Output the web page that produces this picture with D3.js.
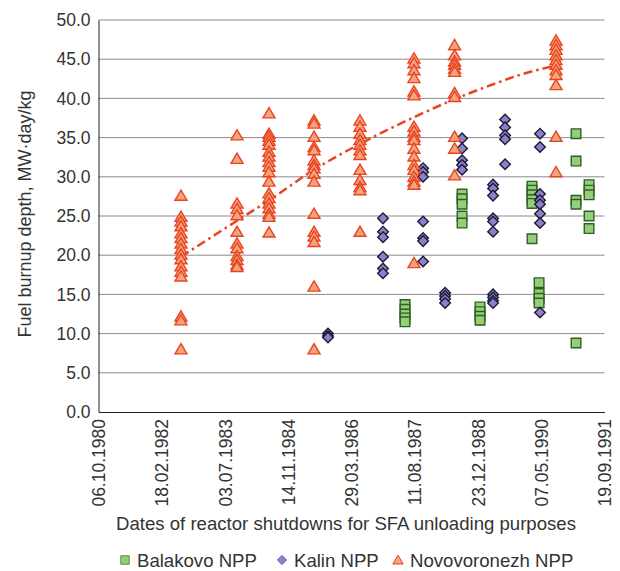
<!DOCTYPE html>
<html lang="en">
<head>
  <meta charset="UTF-8" />
  <title>Fuel burnup depth by reactor shutdown date</title>
  <script src="https://d3js.org/d3.v7.min.js"></script>
  <style>
    body { margin: 0; background: #fff; }
    svg { display: block; font-family: 'Liberation Sans', Arial, sans-serif; }
  </style>
</head>
<body>
  <svg id="chart"></svg>
  <script>
    // tick labels of the date axis (every 500 days)
    const xTickLabels = ["06.10.1980", "18.02.1982", "03.07.1983", "14.11.1984", "29.03.1986",
                         "11.08.1987", "23.12.1988", "07.05.1990", "19.09.1991"];
    const yTickValues = [0, 5, 10, 15, 20, 25, 30, 35, 40, 45, 50];

    // [shutdown date, burnup values]
    const balakovo = [
      ["26.05.1987", [13.7, 13.1, 12.5, 12.0, 11.5]],
      ["19.08.1988", [27.8, 27.2, 26.5, 25.0, 24.1]],
      ["08.01.1989", [13.4, 12.8, 12.2, 11.7]],
      ["23.02.1990", [28.8, 28.3, 27.7, 27.1, 26.6, 22.1]],
      ["20.04.1990", [16.5, 15.1, 14.5, 13.9]],
      ["06.02.1991", [35.5, 32.0, 27.0, 26.5, 8.8]],
      ["20.05.1991", [29.0, 28.3, 27.7, 25.0, 23.4]]
    ];

    const kalin = [
      ["24.09.1985", [10.0, 9.7, 9.5]],
      ["03.12.1986", [24.7, 23.0, 22.3, 19.8, 18.3, 17.7]],
      ["16.10.1987", [31.1, 30.6, 30.0, 24.3, 22.2, 21.8, 19.2]],
      ["07.04.1988", [15.2, 14.8, 14.4, 13.9]],
      ["19.08.1988", [34.9, 33.6, 32.1, 31.5, 30.9]],
      ["21.04.1989", [29.0, 28.5, 27.6, 24.7, 24.3, 23.0, 15.0, 14.6, 14.2, 13.9]],
      ["25.07.1989", [37.3, 36.3, 35.3, 34.8, 31.6]],
      ["27.04.1990", [35.5, 33.8, 27.8, 27.0, 26.5, 25.3, 24.1, 12.7]]
    ];

    const novovoronezh = [
      ["20.07.1982", [27.6, 24.9, 24.3, 23.7, 22.8, 22.2, 21.5, 20.8, 20.1, 19.5, 18.6, 17.9, 17.3, 12.2, 11.7, 8.0]],
      ["06.10.1983", [35.3, 32.3, 26.6, 25.9, 25.1, 23.0, 21.5, 20.9, 19.9, 19.4, 18.8, 18.5]],
      ["15.06.1984", [38.1, 35.5, 35.1, 34.6, 34.1, 33.2, 32.6, 31.9, 31.3, 30.6, 29.4, 27.9, 27.3, 26.6, 26.0, 25.3, 24.9, 22.9]],
      ["06.06.1985", [37.2, 36.8, 35.1, 33.8, 33.4, 32.1, 31.5, 31.1, 30.4, 29.4, 25.3, 23.0, 22.4, 21.7, 16.0, 8.0]],
      ["04.06.1986", [37.2, 36.4, 35.5, 34.7, 34.1, 33.4, 32.8, 30.9, 29.6, 28.7, 28.3, 23.0]],
      ["05.08.1987", [45.1, 44.5, 43.6, 42.6, 40.9, 40.4, 36.4, 35.8, 35.1, 34.7, 33.6, 32.6, 31.5, 30.9, 30.0, 29.4, 29.0, 19.0]],
      ["21.06.1988", [46.8, 45.5, 44.7, 44.3, 43.8, 43.4, 40.7, 40.2, 35.1, 33.6, 30.2]],
      ["01.09.1990", [47.4, 46.8, 46.2, 45.5, 44.9, 44.3, 43.6, 43.0, 41.7, 35.1, 30.6]]
    ];

    // Novovoronezh trend line
    const trendDates = ["20.07.1982", "06.10.1983", "15.06.1984", "06.06.1985", "04.06.1986",
                        "05.08.1987", "21.06.1988", "21.04.1989", "20.11.1989", "01.09.1990"];
    const trendValues = [19.8, 24.4, 27.0, 30.9, 34.2, 37.6, 39.9, 41.8, 43.0, 44.2];

    const parse = d3.timeParse("%d.%m.%Y");

    const svg = d3.select("#chart").attr("width", 620).attr("height", 571);
    const margin = { top: 20, right: 15, bottom: 159, left: 98.5 };
    const width = 506;
    const height = 571 - margin.top - margin.bottom;
    const g = svg.append("g").attr("transform", `translate(${margin.left},${margin.top})`);

    const x = d3.scaleTime()
      .domain([parse(xTickLabels[0]), parse(xTickLabels[xTickLabels.length - 1])])
      .range([0, width]);
    const y = d3.scaleLinear().domain([0, 50]).range([height, 0]);

    // grid
    g.append("g")
      .selectAll("line")
      .data(yTickValues.filter(v => v > 0))
      .join("line")
      .attr("x1", 0).attr("x2", width)
      .attr("y1", d => y(d)).attr("y2", d => y(d))
      .attr("stroke", "#8a8a8a")
      .attr("stroke-width", 1);

    const yAxis = g.append("g")
      .call(d3.axisLeft(y).tickValues(yTickValues).tickFormat(d3.format(".1f")).tickSize(0).tickPadding(8));
    yAxis.select(".domain").attr("stroke", "#222");
    yAxis.selectAll("text").attr("font-size", "17.5px").attr("fill", "#333").attr("font-family", null);

    const xAxis = g.append("g")
      .attr("transform", `translate(0,${height})`)
      .call(d3.axisBottom(x).tickValues(xTickLabels.map(parse)).tickFormat(d3.timeFormat("%d.%m.%Y")).tickSize(0));
    xAxis.select(".domain").attr("stroke", "#222");
    xAxis.selectAll("text")
      .attr("font-size", "17.5px")
      .attr("fill", "#333")
      .attr("font-family", null)
      .attr("text-anchor", "end")
      .attr("transform", "rotate(-90)")
      .attr("x", -7)
      .attr("y", 0)
      .attr("dy", "0.35em");

    // trend line
    const trend = trendDates.map((d, i) => ({ date: parse(d), value: trendValues[i] }));
    g.append("path")
      .datum(trend)
      .attr("fill", "none")
      .attr("stroke", "#e8441f")
      .attr("stroke-width", 2.5)
      .attr("stroke-dasharray", "9 4 2.5 4")
      .attr("d", d3.line().x(d => x(d.date)).y(d => y(d.value)).curve(d3.curveMonotoneX));

    const flat = series => series.flatMap(([d, vals]) => vals.map(v => ({ date: parse(d), value: v })));

    const shapes = {
      square: "M-4.8,-4.8H4.8V4.8H-4.8Z",
      diamond: "M0,-5.3L5.3,0L0,5.3L-5.3,0Z",
      triangle: "M0,-5.6L6,4.6H-6Z"
    };

    const styles = [
      { data: balakovo, shape: "square", fill: "#92cf78", stroke: "#2f5f25" },
      { data: kalin, shape: "diamond", fill: "#8d7fc9", stroke: "#1d1b36" },
      { data: novovoronezh, shape: "triangle", fill: "#f5a27f", stroke: "#e8441f" }
    ];

    styles.forEach(s => {
      g.append("g")
        .selectAll("path")
        .data(flat(s.data))
        .join("path")
        .attr("d", shapes[s.shape])
        .attr("transform", d => `translate(${x(d.date)},${y(d.value)})`)
        .attr("fill", s.fill)
        .attr("stroke", s.stroke)
        .attr("stroke-width", 1.4);
    });

    // axis titles
    svg.append("text")
      .attr("x", 346)
      .attr("y", 530)
      .attr("text-anchor", "middle")
      .attr("font-size", "18.6px")
      .attr("fill", "#333")
      .text("Dates of reactor shutdowns for SFA unloading purposes");

    svg.append("text")
      .attr("transform", "rotate(-90)")
      .attr("x", -214)
      .attr("y", 31)
      .attr("text-anchor", "middle")
      .attr("font-size", "18px")
      .attr("fill", "#333")
      .text("Fuel burnup depth, MW·day/kg");

    // legend
    const legendItems = [
      { name: "Balakovo NPP", cx: 125, shape: "M-4.2,-4.2H4.2V4.2H-4.2Z", fill: "#92cf78", stroke: "#4f8f3a" },
      { name: "Kalin NPP", cx: 282, shape: "M0,-4.6L4.6,0L0,4.6L-4.6,0Z", fill: "#8d7fc9", stroke: "#6a5aa8" },
      { name: "Novovoronezh NPP", cx: 398, shape: "M0,-4.8L5.2,4H-5.2Z", fill: "#f5a27f", stroke: "#e8441f" }
    ];
    const legend = svg.append("g").attr("transform", "translate(0,560)");
    legendItems.forEach(it => {
      legend.append("path")
        .attr("d", it.shape)
        .attr("transform", `translate(${it.cx},0)`)
        .attr("fill", it.fill)
        .attr("stroke", it.stroke)
        .attr("stroke-width", 1);
      legend.append("text")
        .attr("x", it.cx + 12)
        .attr("y", 0)
        .attr("dy", "0.35em")
        .attr("font-size", "18.6px")
        .attr("fill", "#333")
        .text(it.name);
    });
  </script>
</body>
</html>
